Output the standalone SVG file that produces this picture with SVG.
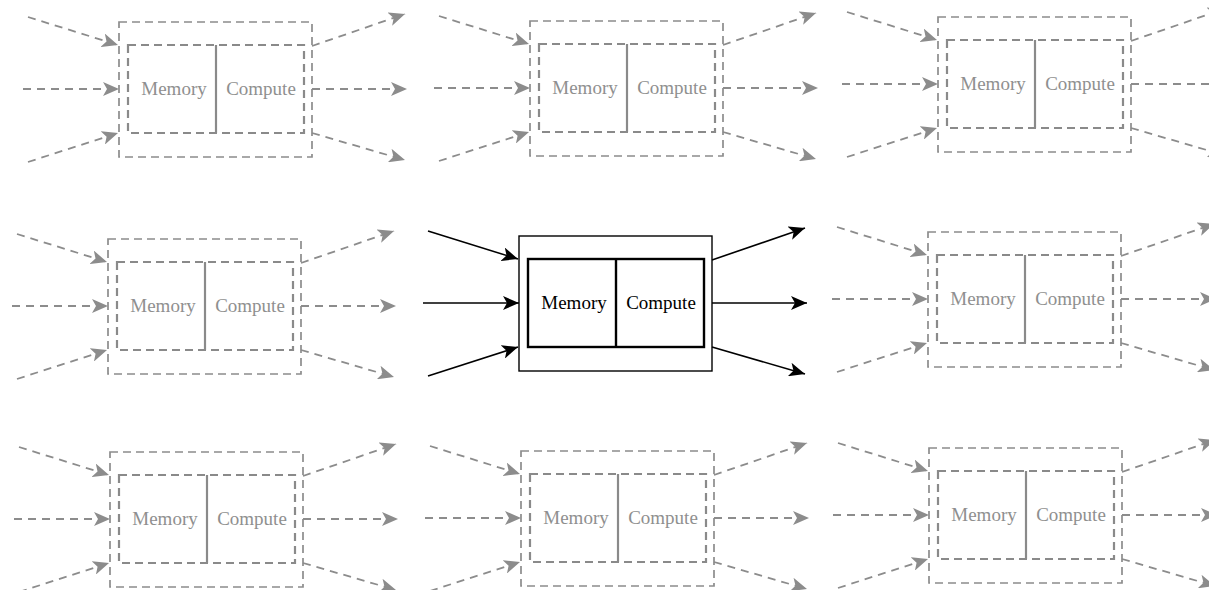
<svg xmlns="http://www.w3.org/2000/svg" width="1209" height="590" viewBox="0 0 1209 590">
  <style>
    .bg { fill: #ffffff; }
    .label { font-family: "Liberation Serif", "Times New Roman", serif; font-size: 19px; text-anchor: middle; }
    .faded .outer { fill: none; stroke: #8c8c8c; stroke-width: 1.7; stroke-dasharray: 8 5; }
    .faded .inner { fill: none; stroke: #8a8a8a; stroke-width: 2.2; stroke-dasharray: 8 5; }
    .faded .divider { stroke: #8a8a8a; stroke-width: 2.2; }
    .faded .label { fill: #8f8f8f; }
    .active .outer { fill: none; stroke: #000000; stroke-width: 1.4; }
    .active .inner { fill: none; stroke: #000000; stroke-width: 2.4; }
    .active .divider { stroke: #000000; stroke-width: 2.4; }
    .active .label { fill: #000000; }
    .link-faded { fill: none; stroke: #8c8c8c; stroke-width: 1.8; stroke-dasharray: 8 6; marker-end: url(#head-gray); }
    .link-active { fill: none; stroke: #000000; stroke-width: 1.6; marker-end: url(#head-black); }
  </style>
  <defs>
    <marker id="head-gray" markerUnits="userSpaceOnUse" markerWidth="17" markerHeight="14" refX="16" refY="7" orient="auto" viewBox="0 0 17 14">
      <path d="M0,0 L16,7 L0,14 L4,7 Z" fill="#8c8c8c"/>
    </marker>
    <marker id="head-black" markerUnits="userSpaceOnUse" markerWidth="17" markerHeight="14" refX="16" refY="7" orient="auto" viewBox="0 0 17 14">
      <path d="M0,0 L16,7 L0,14 L4,7 Z" fill="#000000"/>
    </marker>
    <!-- one cell's six links, relative to the outer box's top-left corner -->
    <g id="links-shape">
      <path d="M-91,-5 L-1,23"/>
      <path d="M-96,67 L0,67"/>
      <path d="M-91,140 L-1,111"/>
      <path d="M193,24 L286,-8"/>
      <path d="M193,67 L288,67"/>
      <path d="M193,111 L286,138"/>
    </g>
  </defs>

  <rect class="bg" x="0" y="0" width="1209" height="590"/>

  <!-- connectors -->
  <g id="connectors">
    <use href="#links-shape" class="link-faded" transform="translate(119,22)"/>
    <use href="#links-shape" class="link-faded" transform="translate(530,21)"/>
    <use href="#links-shape" class="link-faded" transform="translate(938,17)"/>
    <use href="#links-shape" class="link-faded" transform="translate(108,239)"/>
    <use href="#links-shape" class="link-active" transform="translate(519,236)"/>
    <use href="#links-shape" class="link-faded" transform="translate(928,232)"/>
    <use href="#links-shape" class="link-faded" transform="translate(110,452)"/>
    <use href="#links-shape" class="link-faded" transform="translate(521,451)"/>
    <use href="#links-shape" class="link-faded" transform="translate(929,448)"/>
  </g>

  <!-- nodes: outer box, inner memory/compute box, divider, labels -->
  <g id="node-top-left" class="faded" transform="translate(119,22)">
    <rect class="outer" x="0" y="0" width="193" height="135"/>
    <rect class="inner" x="9" y="23" width="176" height="88"/>
    <line class="divider" x1="97" y1="23" x2="97" y2="111"/>
    <text class="label" x="55" y="73">Memory</text>
    <text class="label" x="142" y="73">Compute</text>
  </g>
  <g id="node-top-middle" class="faded" transform="translate(530,21)">
    <rect class="outer" x="0" y="0" width="193" height="135"/>
    <rect class="inner" x="9" y="23" width="176" height="88"/>
    <line class="divider" x1="97" y1="23" x2="97" y2="111"/>
    <text class="label" x="55" y="73">Memory</text>
    <text class="label" x="142" y="73">Compute</text>
  </g>
  <g id="node-top-right" class="faded" transform="translate(938,17)">
    <rect class="outer" x="0" y="0" width="193" height="135"/>
    <rect class="inner" x="9" y="23" width="176" height="88"/>
    <line class="divider" x1="97" y1="23" x2="97" y2="111"/>
    <text class="label" x="55" y="73">Memory</text>
    <text class="label" x="142" y="73">Compute</text>
  </g>
  <g id="node-middle-left" class="faded" transform="translate(108,239)">
    <rect class="outer" x="0" y="0" width="193" height="135"/>
    <rect class="inner" x="9" y="23" width="176" height="88"/>
    <line class="divider" x1="97" y1="23" x2="97" y2="111"/>
    <text class="label" x="55" y="73">Memory</text>
    <text class="label" x="142" y="73">Compute</text>
  </g>
  <g id="node-center" class="active" transform="translate(519,236)">
    <rect class="outer" x="0" y="0" width="193" height="135"/>
    <rect class="inner" x="9" y="23" width="176" height="88"/>
    <line class="divider" x1="97" y1="23" x2="97" y2="111"/>
    <text class="label" x="55" y="73">Memory</text>
    <text class="label" x="142" y="73">Compute</text>
  </g>
  <g id="node-middle-right" class="faded" transform="translate(928,232)">
    <rect class="outer" x="0" y="0" width="193" height="135"/>
    <rect class="inner" x="9" y="23" width="176" height="88"/>
    <line class="divider" x1="97" y1="23" x2="97" y2="111"/>
    <text class="label" x="55" y="73">Memory</text>
    <text class="label" x="142" y="73">Compute</text>
  </g>
  <g id="node-bottom-left" class="faded" transform="translate(110,452)">
    <rect class="outer" x="0" y="0" width="193" height="135"/>
    <rect class="inner" x="9" y="23" width="176" height="88"/>
    <line class="divider" x1="97" y1="23" x2="97" y2="111"/>
    <text class="label" x="55" y="73">Memory</text>
    <text class="label" x="142" y="73">Compute</text>
  </g>
  <g id="node-bottom-middle" class="faded" transform="translate(521,451)">
    <rect class="outer" x="0" y="0" width="193" height="135"/>
    <rect class="inner" x="9" y="23" width="176" height="88"/>
    <line class="divider" x1="97" y1="23" x2="97" y2="111"/>
    <text class="label" x="55" y="73">Memory</text>
    <text class="label" x="142" y="73">Compute</text>
  </g>
  <g id="node-bottom-right" class="faded" transform="translate(929,448)">
    <rect class="outer" x="0" y="0" width="193" height="135"/>
    <rect class="inner" x="9" y="23" width="176" height="88"/>
    <line class="divider" x1="97" y1="23" x2="97" y2="111"/>
    <text class="label" x="55" y="73">Memory</text>
    <text class="label" x="142" y="73">Compute</text>
  </g>
</svg>
